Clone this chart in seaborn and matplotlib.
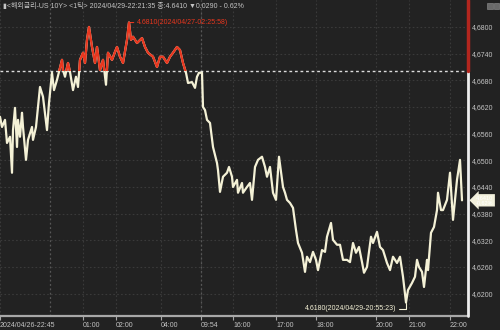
import matplotlib
matplotlib.use("Agg")
import matplotlib.pyplot as plt
import seaborn as sns
import pandas as pd
from matplotlib.patches import Rectangle
from matplotlib import font_manager as fm

# ---------------- data ----------------
tick_no = [0, 2, 5, 7, 10, 12, 13, 15, 17, 18, 20, 22, 23, 26, 28, 32, 33, 36, 38, 40,
           43, 47, 49, 52, 54, 57, 59, 62, 63, 65, 68, 70, 73, 76, 78, 80, 83, 85, 87, 89,
           92, 95, 97, 100, 103, 106, 108, 112, 115, 117, 120, 123, 127, 129, 131, 133, 137, 142, 145, 148,
           153, 157, 160, 163, 167, 170, 173, 177, 180, 183, 186, 188, 192, 195, 197, 199, 202, 203, 205, 207,
           210, 213, 217, 218, 220, 223, 227, 229, 232, 233, 237, 238, 242, 243, 247, 250, 252, 255, 258, 262,
           265, 267, 270, 273, 276, 279, 283, 285, 287, 290, 293, 296, 298, 302, 305, 307, 310, 313, 316, 318,
           322, 325, 327, 331, 333, 337, 340, 343, 347, 350, 353, 356, 359, 362, 364, 367, 371, 373, 377, 380,
           383, 387, 390, 393, 397, 400, 403, 406, 408, 412, 415, 417, 419, 422, 424, 427, 428, 431, 434, 437,
           438, 441, 443, 447, 450, 453, 455, 457, 460, 462]
yield_val = [4.6598, 4.6575, 4.6591, 4.6539, 4.6553, 4.6472, 4.6568, 4.6618, 4.6530, 4.6591,
             4.6553, 4.6607, 4.6575, 4.6501, 4.6546, 4.6575, 4.6546, 4.6575, 4.6620, 4.6665,
             4.6643, 4.6568, 4.6629, 4.6697, 4.6658, 4.6681, 4.6699, 4.6726, 4.6703, 4.6688,
             4.6719, 4.6699, 4.6658, 4.6688, 4.6665, 4.6726, 4.6742, 4.6719, 4.6771, 4.6800,
             4.6755, 4.6719, 4.6755, 4.6703, 4.6726, 4.6670, 4.6742, 4.6726, 4.6744, 4.6755,
             4.6733, 4.6719, 4.6771, 4.6810, 4.6771, 4.6778, 4.6764, 4.6775, 4.6755, 4.6742,
             4.6733, 4.6710, 4.6733, 4.6733, 4.6719, 4.6733, 4.6742, 4.6755, 4.6748, 4.6719,
             4.6697, 4.6674, 4.6676, 4.6663, 4.6688, 4.6697, 4.6697, 4.6620, 4.6613, 4.6591,
             4.6584, 4.6530, 4.6494, 4.6478, 4.6429, 4.6463, 4.6472, 4.6485, 4.6463, 4.6440,
             4.6456, 4.6427, 4.6449, 4.6427, 4.6440, 4.6449, 4.6411, 4.6485, 4.6501, 4.6508,
             4.6485, 4.6463, 4.6485, 4.6427, 4.6411, 4.6508, 4.6440, 4.6427, 4.6411, 4.6404,
             4.6393, 4.6343, 4.6314, 4.6292, 4.6249, 4.6283, 4.6271, 4.6294, 4.6276, 4.6253,
             4.6298, 4.6294, 4.6328, 4.6359, 4.6321, 4.6310, 4.6310, 4.6276, 4.6276, 4.6271,
             4.6314, 4.6292, 4.6305, 4.6271, 4.6247, 4.6260, 4.6328, 4.6314, 4.6339, 4.6305,
             4.6298, 4.6269, 4.6253, 4.6283, 4.6269, 4.6283, 4.6238, 4.6180, 4.6208, 4.6224,
             4.6238, 4.6276, 4.6260, 4.6249, 4.6215, 4.6276, 4.6253, 4.6337, 4.6350, 4.6388,
             4.6427, 4.6388, 4.6388, 4.6411, 4.6472, 4.6366, 4.6411, 4.6456, 4.6501, 4.6410]

prev_close = 4.6700
max_val, max_tick, max_label = 4.6810, 129, "4.6810(2024/04/27-02:25:58)"
min_val, min_tick, min_label = 4.6180, 406, "4.6180(2024/04/29-20:55:23)"
last_val = 4.6410
last_chg = "-0.62%"

x_tick_pos = [0, 83, 116, 161, 201, 233, 276, 316, 376, 409, 450]
x_tick_labels = ["2024/04/26-22:45", "01:00", "02:00", "04:00", "09:54", "16:00",
                 "17:00", "18:00", "20:00", "21:00", "22:00"]
day_breaks = [50, 201]
y_ticks = [4.6200, 4.6260, 4.6320, 4.6380, 4.6440, 4.6500, 4.6560, 4.6620, 4.6680, 4.6740, 4.6800]
y_range = (4.61497, 4.68607)
x_range = (0, 468)
title = "\u25ae<해외금리-US 10Y> <1틱> 2024/04/29-22:21:35 종:4.6410 \u25bc0.0290 - 0.62%"

# ---------------- style ----------------
BG = "#222222"
CREAM = "#f4f1d6"
RED = "#e8361e"
AXRED = "#b3261e"
GRID = "#3a3a3a"
TXT = "#c4c4c4"


def has_font(name):
    try:
        fm.findfont(fm.FontProperties(family=name), fallback_to_default=False)
        return True
    except Exception:
        return False


NARROW = "Liberation Sans Narrow" if has_font("Liberation Sans Narrow") else "Liberation Sans"
FS = 6.0 if NARROW == "Liberation Sans Narrow" else 5.0

sns.set_theme(style="dark")
plt.rcParams.update({
    "axes.facecolor": BG, "figure.facecolor": BG, "savefig.facecolor": BG,
    "font.family": [NARROW, "Noto Sans CJK KR", "DejaVu Sans"],
})

fig = plt.figure(figsize=(5, 3.3), dpi=100)
ax = fig.add_axes([0, 14 / 330, 468 / 500, 316 / 330])

df = pd.DataFrame({"tick": tick_no, "val": yield_val})
sns.lineplot(data=df, x="tick", y="val", ax=ax, color=CREAM, linewidth=1.6,
             sort=False, estimator=None, zorder=5)
sns.lineplot(data=df, x="tick", y="val", ax=ax, color=RED, linewidth=1.6,
             sort=False, estimator=None, zorder=6)
red_line = ax.lines[-1]
clip = Rectangle((x_range[0] - 10, prev_close), x_range[1] + 20, 1.0, transform=ax.transData)
red_line.set_clip_path(clip)

ax.set_xlim(*x_range)
ax.set_ylim(*y_range)
ax.set_xlabel("")
ax.set_ylabel("")

# grid
ax.set_xticks(x_tick_pos)
ax.set_xticklabels(x_tick_labels)
ax.set_yticks(y_ticks)
ax.set_yticklabels([f"{v:.4f}".replace(".", ",") for v in y_ticks])
ax.grid(True, color=GRID, linestyle=(0, (1.5, 2)), linewidth=0.8)
for d in day_breaks:
    ax.axvline(d, color="#575757", linestyle=(0, (1.5, 2)), linewidth=0.9, zorder=1)

ax.axhline(prev_close, color="#dcdcdc", linestyle=(0, (2, 2)), linewidth=1.0, zorder=4)

for s in ["top", "left", "right"]:
    ax.spines[s].set_visible(False)
ax.spines["bottom"].set_color("#a8a8a8")
ax.spines["bottom"].set_linewidth(1.6)

# right axis line: white below previous close, red above
frac = (prev_close - y_range[0]) / (y_range[1] - y_range[0])
ax.axvline(x_range[1], ymin=0, ymax=frac, color="#eeeeee", linewidth=2, clip_on=False, zorder=7)
ax.axvline(x_range[1], ymin=frac, ymax=1, color=AXRED, linewidth=2.5, clip_on=False, zorder=7)

ax.yaxis.tick_right()
ax.tick_params(axis="y", length=0, pad=3, labelsize=FS, labelcolor=TXT)
ax.tick_params(axis="x", direction="out", length=3, width=0.8, color="#a8a8a8",
               pad=1, labelsize=FS, labelcolor=TXT, bottom=True)
for lbl in ax.get_xticklabels():
    lbl.set_horizontalalignment("left")

# max / min annotations
ax.annotate(max_label, xy=(max_tick, max_val), xytext=(8, 0), textcoords="offset pixels",
            ha="left", va="center", fontsize=FS, color=RED,
            arrowprops=dict(arrowstyle="-", color=RED, lw=0.8, shrinkA=0, shrinkB=0))
ax.annotate(min_label, xy=(min_tick, min_val), xytext=(-10, -6), textcoords="offset pixels",
            ha="right", va="center", fontsize=FS, color=CREAM,
            arrowprops=dict(arrowstyle="-", color=CREAM, lw=0.8, shrinkA=0, shrinkB=0,
                            connectionstyle="angle,angleA=0,angleB=90,rad=0"))

# current value marker on the right axis
ax.annotate(f"{last_val:.4f}".replace(".", ",") + "\n" + last_chg.replace(".", ","),
            xy=(1, last_val), xycoords=("axes fraction", "data"),
            xytext=(8, 0), textcoords="offset pixels", ha="left", va="center",
            fontsize=4, color="white", linespacing=0.9, annotation_clip=False,
            bbox=dict(boxstyle="larrow,pad=0.25", fc="#f2f0dc", ec="none"))

# title
fig.text(3 / 500, 1 - 6.5 / 330, title, fontsize=FS, color=TXT, ha="left", va="center")

# small window icons at top right
for i in range(2):
    fig.patches.append(Rectangle((487 / 500 + i * 6.5 / 500, 1 - 9 / 330), 5.5 / 500, 6 / 330,
                                 transform=fig.transFigure, fc="#6a6a6a", ec="#909090", lw=0.4))

fig.savefig("out.png", dpi=100)
